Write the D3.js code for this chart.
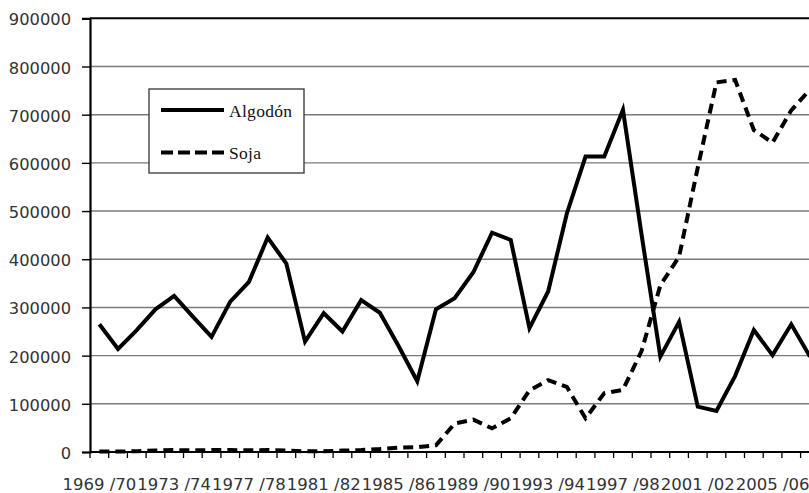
<!DOCTYPE html>
<html lang="es">
  <head>
    <meta charset="UTF-8">
    <title>Algodón y Soja</title>
    <style>
body {margin: 0; background: #fff;}
svg {display: block;}
    </style>
  </head>
  <body>
<!-- Load d3.js -->
<script src="https://d3js.org/d3.v7.min.js"></script>

<div id="my_dataviz"></div>

<script>

// campañas (categories)
var campanas = [
  "1969 /70", "1970 /71", "1971 /72", "1972 /73", "1973 /74", "1974 /75", "1975 /76", "1976 /77",
  "1977 /78", "1978 /79", "1979 /80", "1980 /81", "1981 /82", "1982 /83", "1983 /84", "1984 /85",
  "1985 /86", "1986 /87", "1987 /88", "1988 /89", "1989 /90", "1990 /91", "1991 /92", "1992 /93",
  "1993 /94", "1994 /95", "1995 /96", "1996 /97", "1997 /98", "1998 /99", "1999 /00", "2000 /01",
  "2001 /02", "2002 /03", "2003 /04", "2004 /05", "2005 /06", "2006 /07", "2007 /08"
];

// series values
var algodon = [
  265000, 214000, 253000, 296000, 324000, 281000, 239000, 312000,
  353000, 445000, 391000, 229000, 288000, 250000, 315000, 289000,
  220000, 147000, 296000, 319000, 373000, 455000, 440000, 257000,
  333000, 495000, 613000, 613000, 710000, 450000, 198000, 270000,
  94000, 85000, 158000, 253000, 201000, 265000, 198000
];
var soja = [
  1000, 1000, 1500, 3000, 4000, 3500, 4000, 4000,
  3500, 4000, 3000, 1500, 1500, 3000, 4000, 6000,
  9000, 10000, 14000, 59000, 67000, 49000, 70000, 128000,
  149000, 135000, 70000, 122000, 129000, 210000, 346000, 405000,
  590000, 767000, 772000, 668000, 642000, 709000, 752000
];

// tick labels
var yTicks = [0, 100000, 200000, 300000, 400000, 500000, 600000, 700000, 800000, 900000];
var xLabels = ["1969 /70", "1973 /74", "1977 /78", "1981 /82", "1985 /86",
               "1989 /90", "1993 /94", "1997 /98", "2001 /02", "2005 /06"];

var series = [
  {name: "Algodón", values: algodon, dash: null},
  {name: "Soja", values: soja, dash: "10,6"}
];

var W = 809, H = 493;
var plotLeft = 90, plotTop = 18.3, plotBottom = 452;
var band = 18.7;

var svg = d3.select("#my_dataviz")
  .append("svg")
    .attr("width", W)
    .attr("height", H);

svg.append("rect")
  .attr("width", W).attr("height", H)
  .attr("fill", "#fff");

var x = d3.scaleBand()
  .domain(campanas)
  .range([plotLeft, plotLeft + band * campanas.length]);

var y = d3.scaleLinear()
  .domain([0, 900000])
  .range([plotBottom, plotTop]);

// gridlines
svg.append("g")
  .selectAll("line")
  .data(yTicks.filter(function(d) { return d > 0 && d < 900000; }))
  .enter()
  .append("line")
    .attr("x1", plotLeft).attr("x2", W)
    .attr("y1", function(d) { return y(d); })
    .attr("y2", function(d) { return y(d); })
    .attr("stroke", "#7a7a7a")
    .attr("stroke-width", 1.4);

// top border
svg.append("line")
  .attr("x1", plotLeft).attr("x2", W)
  .attr("y1", y(900000)).attr("y2", y(900000))
  .attr("stroke", "#000")
  .attr("stroke-width", 2);

// Y axis
var yAxis = svg.append("g")
  .attr("transform", "translate(" + plotLeft + ",0)")
  .call(d3.axisLeft(y).tickValues(yTicks).tickFormat(d3.format("d")).tickSize(8).tickPadding(11));
yAxis.select(".domain").attr("stroke", "#000").attr("stroke-width", 2.2);
yAxis.selectAll(".tick line").attr("stroke", "#000").attr("stroke-width", 1.4);
yAxis.selectAll("text")
  .attr("font-family", "DejaVu Sans, Verdana, sans-serif")
  .attr("font-size", "16.3px")
  .attr("fill", "#333")
  .attr("dy", "0.4em");

// X axis: ticks on band edges
var xg = svg.append("g");
xg.append("line")
  .attr("x1", plotLeft).attr("x2", W)
  .attr("y1", plotBottom).attr("y2", plotBottom)
  .attr("stroke", "#000")
  .attr("stroke-width", 2.2);
xg.selectAll(".xt")
  .data(campanas)
  .enter()
  .append("line")
    .attr("class", "xt")
    .attr("x1", function(d) { return x(d); })
    .attr("x2", function(d) { return x(d); })
    .attr("y1", plotBottom).attr("y2", plotBottom + 6)
    .attr("stroke", "#000")
    .attr("stroke-width", 1.3);
xg.selectAll(".xl")
  .data(xLabels)
  .enter()
  .append("text")
    .attr("class", "xl")
    .attr("x", function(d) { return x(d) + x.bandwidth() / 2; })
    .attr("y", 490)
    .attr("text-anchor", "middle")
    .attr("font-family", "DejaVu Sans, Verdana, sans-serif")
    .attr("font-size", "16.5px")
    .attr("fill", "#333")
    .text(function(d) { return d; });

// lines
var line = d3.line()
  .x(function(d, i) { return x(campanas[i]) + x.bandwidth() / 2; })
  .y(function(d) { return y(d); });

svg.selectAll(".serie")
  .data(series)
  .enter()
  .append("path")
    .attr("class", "serie")
    .attr("d", function(d) { return line(d.values); })
    .attr("fill", "none")
    .attr("stroke", "#000")
    .attr("stroke-width", 4)
    .attr("stroke-linejoin", "miter")
    .attr("stroke-dasharray", function(d) { return d.dash; });

// legend
var legend = svg.append("g");
legend.append("rect")
  .attr("x", 149).attr("y", 89)
  .attr("width", 155).attr("height", 84)
  .attr("fill", "#fff")
  .attr("stroke", "#333")
  .attr("stroke-width", 1.3);

var items = legend.selectAll(".item")
  .data(series)
  .enter()
  .append("g")
    .attr("class", "item")
    .attr("transform", function(d, i) { return "translate(0," + (110 + i * 42.5) + ")"; });
items.append("line")
  .attr("x1", 161).attr("x2", 224)
  .attr("stroke", "#000")
  .attr("stroke-width", 4.2)
  .attr("stroke-dasharray", function(d) { return d.dash ? "12,5" : null; });
items.append("text")
  .attr("x", 229)
  .attr("y", 6.5)
  .attr("font-family", "Liberation Serif, Times New Roman, serif")
  .attr("font-size", "17.5px")
  .attr("letter-spacing", "0.3px")
  .attr("fill", "#111")
  .text(function(d) { return d.name; });

</script>
  </body>
</html>
